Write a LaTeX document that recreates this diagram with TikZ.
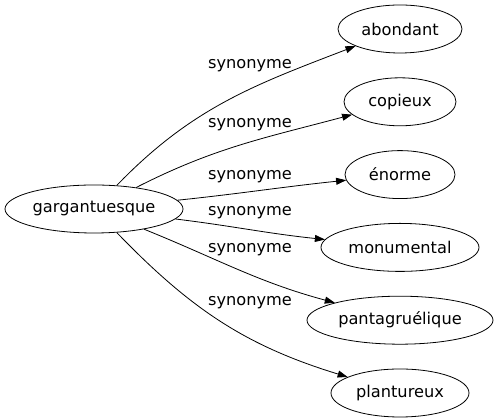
\documentclass[tikz,border=0pt]{standalone}
\usepackage{fontspec}
\setmainfont{DejaVu Sans}
\usepackage{tikz}
\usetikzlibrary{positioning}
\usetikzlibrary{shapes.geometric}
\usetikzlibrary{arrows.meta}

\begin{document}
\begin{tikzpicture}[x=1pt,y=1pt,font=\fontsize{16.2}{20}\selectfont,
    mot/.style={ellipse,draw,line width=0.8pt,inner sep=0pt,minimum height=48pt},
    rel/.style={inner sep=0pt},
    fl/.style={-{Triangle[length=10pt,width=7pt]},line width=0.8pt}]
      \useasboundingbox (0,0) rectangle (498,419);
      \node[mot,minimum width=178pt](gargantuesque) at (94,210){gargantuesque};
      \node[mot,minimum width=124pt](abondant) at (400,390){abondant};
      \node[mot,minimum width=112pt,below=24pt of abondant](copieux){copieux};
      \node[mot,minimum width=110pt,below=24pt of copieux](enorme){énorme};
      \node[mot,minimum width=158pt,below=24pt of enorme](monumental){monumental};
      \node[mot,minimum width=186pt,below=24pt of monumental](pantagruelique){pantagruélique};
      \node[mot,minimum width=138pt,below=24pt of pantagruelique](plantureux){plantureux};
      % les liens
      \draw[fl] (gargantuesque) to[out=46,in=201] (abondant);
      \draw[fl] (gargantuesque) to[out=27,in=195] (copieux);
      \draw[fl] (gargantuesque) to[out=6,in=186] (enorme);
      \draw[fl] (gargantuesque) to[out=-7,in=174] (monumental);
      \draw[fl] (gargantuesque) to[out=-22,in=165] (pantagruelique);
      \draw[fl] (gargantuesque) to[out=-46,in=163] (plantureux);
      % etiquettes
      \node[rel](s1) at (250,353){synonyme};
      \node[rel](s2) at (250,294){synonyme};
      \node[rel](s3) at (250,242){synonyme};
      \node[rel](s4) at (250,206){synonyme};
      \node[rel](s5) at (250,169){synonyme};
      \node[rel](s6) at (250,116){synonyme};
\end{tikzpicture}
\end{document}
